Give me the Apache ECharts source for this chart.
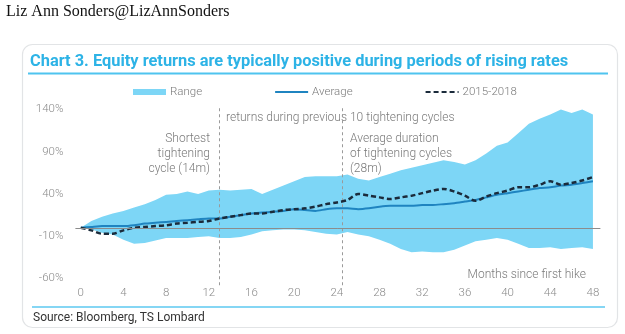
<!DOCTYPE html>
<html>
<head>
<meta charset="utf-8">
<script src="https://cdn.jsdelivr.net/npm/echarts@6/dist/echarts.min.js"></script>
<style>
  html, body { margin: 0; padding: 0; background: #fff; }
  #chart { width: 625px; height: 334px; }
</style>
</head>
<body>
<div id="chart"></div>
<script>
// Months since the first rate hike
const months = [0,1,2,3,4,5,6,7,8,9,10,11,12,13,14,15,16,17,18,19,20,21,22,23,24,25,26,27,28,29,30,31,32,33,34,35,36,37,38,39,40,41,42,43,44,45,46,47,48];
const xTicks = [0,4,8,12,16,20,24,28,32,36,40,44,48];
const yTicks = [-60,-10,40,90,140];

// Cumulative equity return (%) across the previous 10 tightening cycles
const rangeHigh = [0,8,13,17,20,24,28,33,39,40,43,40,44,45,44,45,46,40,45,50,55,60,61,61,61,63,58,56,60,64,68,71,74,77,80,78,75,80,88,97,101,112,123,129,134,140,136,140,134];
const rangeLow  = [0,-2,-6,-8,-14,-19,-18,-15,-12,-12,-12,-11,-10,-12,-12,-11,-8,-4,-3,-2,-2,-3,-5,-7,-8,-5,-8,-10,-14,-19,-25,-29,-28,-29,-29,-26,-21,-16,-14,-12,-14,-19,-24,-24,-23,-25,-24,-23,-25];
const average   = [0,1,2,2,2,3,5,6,7,8,9,10,11,11,13,15,17,18,19,20,22,21,20,22,23,23,22,23,25,26,26,26,27,27,28,29,31,33,36,39,41,43,45,47,48,50,51,53,55];
const cycle2015 = [0,-3,-7,-7,-3,0,1,2,3,5,6,7,8,11,13,15,17,17,19,21,22,23,25,28,30,33,40,38,36,34,36,38,41,44,46,43,38,32,37,41,44,48,48,51,55,51,53,56,60];

// Reference durations marked on the chart (months)
const cycleMarks = [13, 24.5];

const titleText = 'Chart 3. Equity returns are typically positive during periods of rising rates';

const BAND = '#7dd6f6';
const AVG = '#1f84c0';
const DASH = '#1b2b3b';
const GREY = '#7a7a7a';
const FONT = 'Roboto, "Open Sans", sans-serif';

const pair = arr => arr.map((v, i) => [months[i], v]);

// Range band (one polygon: high edge out, low edge back) plus the dashed
// vertical markers for the cycle durations, which run a little past the plot
function renderBand(params, api) {
  const pts = [];
  for (let i = 0; i < months.length; i++) pts.push(api.coord([months[i], rangeHigh[i]]));
  for (let i = months.length - 1; i >= 0; i--) pts.push(api.coord([months[i], rangeLow[i]]));
  const children = [{
    type: 'polygon',
    shape: { points: pts },
    style: { fill: BAND, stroke: null }
  }];
  cycleMarks.forEach(m => {
    const a = api.coord([m, 141.5]);
    const b = api.coord([m, -70.5]);
    children.push({
      type: 'line', z2: 10,
      shape: { x1: Math.round(a[0]) + 0.5, y1: a[1], x2: Math.round(b[0]) + 0.5, y2: b[1] },
      style: { stroke: '#9a9a9a', lineWidth: 1, lineDash: [3, 3] }
    });
  });
  return { type: 'group', children };
}

const chart = echarts.init(document.getElementById('chart'), null, { renderer: 'canvas' });

const option = {
  animation: false,
  backgroundColor: '#ffffff',
  grid: { left: 75.4, top: 109.5, width: 525, height: 169, containLabel: false },
  legend: {
    left: 128, top: 81,
    itemGap: 72, itemWidth: 33, itemHeight: 6,
    textStyle: { color: GREY, fontSize: 11.5, fontFamily: FONT, fontWeight: 300, padding: [0, 0, 0, -1] },
    data: [
      { name: 'Range', icon: 'rect', itemStyle: { color: BAND } },
      { name: 'Average', itemStyle: { opacity: 0 } },
      { name: '2015-2018', itemStyle: { opacity: 0 } }
    ]
  },
  xAxis: {
    type: 'value', min: -0.5, max: 48.7,
    axisLine: { show: false }, axisTick: { show: false }, splitLine: { show: false },
    axisLabel: { customValues: xTicks, color: '#8a8a8a', fontSize: 11.5, fontFamily: FONT, fontWeight: 300, margin: 9 }
  },
  yAxis: {
    type: 'value', min: -60, max: 140,
    axisLine: { show: false }, axisTick: { show: false }, splitLine: { show: false },
    axisLabel: { customValues: yTicks, formatter: '{value}%', color: '#8a8a8a', fontSize: 11.5, fontFamily: FONT, fontWeight: 300, margin: 12 }
  },
  series: [
    {
      name: 'Range', type: 'custom', renderItem: renderBand, clip: false,
      data: [0], itemStyle: { color: BAND }, silent: true, z: 1
    },
    {
      name: 'Average', type: 'line', data: pair(average),
      symbol: 'none', smooth: 0.2,
      lineStyle: { color: AVG, width: 2 }, itemStyle: { color: AVG }, z: 3,
      markLine: {
        silent: true, symbol: 'none', animation: false,
        label: { show: false },
        lineStyle: { color: '#8c8c8c', type: 'solid', width: 1 },
        data: [{ yAxis: 0 }]
      }
    },
    {
      name: '2015-2018', type: 'line', data: pair(cycle2015),
      symbol: 'none', smooth: 0.3,
      lineStyle: { color: DASH, width: 2.5, type: [5, 3] }, itemStyle: { color: DASH }, z: 4
    }
  ],
  graphic: [
    {
      type: 'text', x: 6, y: 12,
      style: { text: 'Liz Ann Sonders@LizAnnSonders', font: '16px "Liberation Serif", serif', fill: '#111', verticalAlign: 'middle' }
    },
    {
      type: 'rect', shape: { x: 22.5, y: 44.5, width: 595, height: 283, r: 10 },
      style: { fill: 'none', stroke: '#e2e4e6', lineWidth: 1.2 }, z: -10
    },
    {
      type: 'text', x: 30, y: 62,
      style: { text: titleText, font: 'bold 16.4px Roboto', fill: '#2db3e6', verticalAlign: 'middle' }
    },
    {
      type: 'line', shape: { x1: 28, y1: 73.5, x2: 608, y2: 73.5 },
      style: { stroke: '#4fc4ef', lineWidth: 2 }
    },
    {
      type: 'text', x: 226, y: 118,
      style: { text: 'returns during previous 10 tightening cycles', font: '300 12px Roboto', fill: GREY, verticalAlign: 'middle' }
    },
    {
      type: 'text', x: 210, y: 154,
      style: { text: 'Shortest\ntightening\ncycle (14m)', font: '300 12px Roboto', fill: GREY, align: 'right', verticalAlign: 'middle', lineHeight: 15 }
    },
    {
      type: 'text', x: 350, y: 154,
      style: { text: 'Average duration\nof tightening cycles\n(28m)', font: '300 12px Roboto', fill: GREY, align: 'left', verticalAlign: 'middle', lineHeight: 15 }
    },
    {
      type: 'text', x: 586, y: 275,
      style: { text: 'Months since first hike', font: '300 12px Roboto', fill: GREY, align: 'right', verticalAlign: 'middle' }
    },
    {
      type: 'line', shape: { x1: 32, y1: 307, x2: 605, y2: 307 },
      style: { stroke: '#5cc8f0', lineWidth: 1.5 }
    },
    {
      type: 'text', x: 33, y: 318,
      style: { text: 'Source: Bloomberg, TS Lombard', font: '12px Roboto', fill: '#333', verticalAlign: 'middle' }
    }
  ]
};

chart.setOption(option);
</script>
</body>
</html>
